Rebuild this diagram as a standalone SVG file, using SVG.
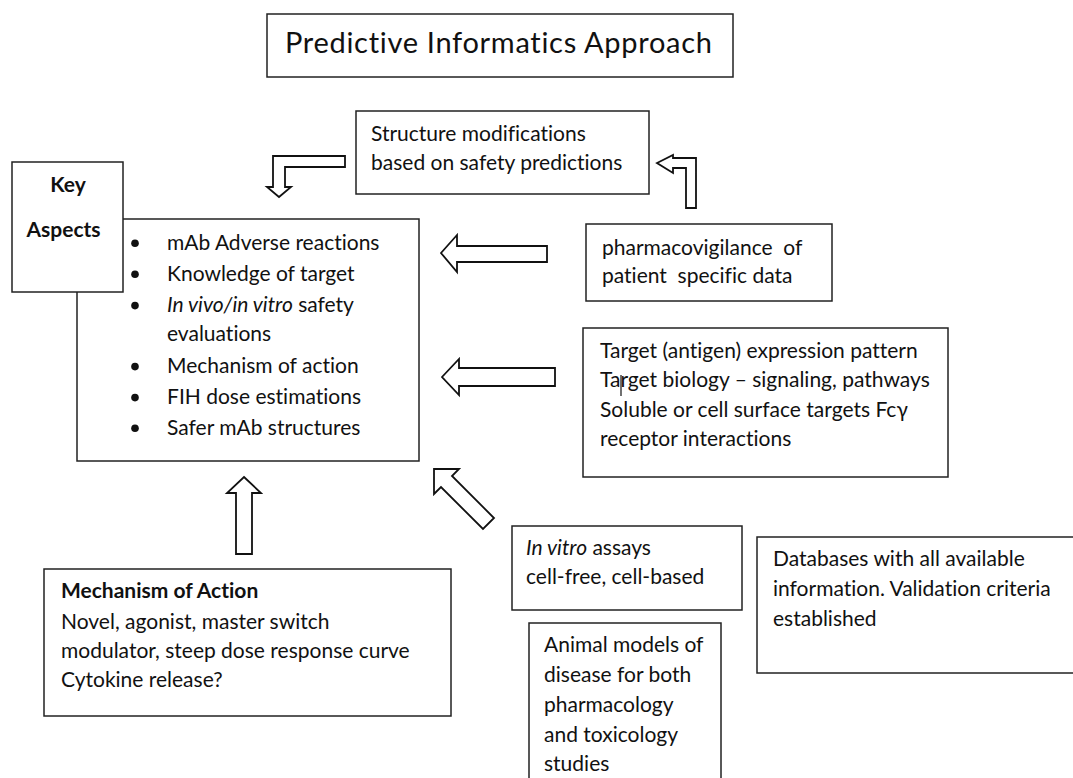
<svg xmlns="http://www.w3.org/2000/svg" width="1073" height="778" viewBox="0 0 1073 778">
<style>
.box{fill:#fff;stroke:#222;stroke-width:1.5}
.arr{fill:#fff;stroke:#111;stroke-width:1.8;stroke-linejoin:miter}
text{font-family:Lato,"Open Sans","Liberation Sans",sans-serif;font-size:21px;fill:#111;font-variant-ligatures:none;font-feature-settings:"liga" 0,"clig" 0,"dlig" 0,"calt" 0}
.b{font-weight:bold}
.i{font-style:italic}
.title{font-size:29px;letter-spacing:0.7px}
.dot{fill:#111}
</style>
<rect width="1073" height="778" fill="#fff"/>
<g id="title">
<rect class="box" x="267" y="14" width="466" height="63"/>
<text class="title" x="285" y="53">Predictive Informatics Approach</text>
</g>
<g id="connectors">
<path class="arr" d="M345,156 L273,156 L273,187 L267,187 L279,197 L291,187 L285,187 L285,167 L345,167 Z"/>
<path class="arr" d="M686,208 L686,168 L673,168 L673,173 L657,163 L673,155 L673,158 L696,158 L696,208 Z"/>
<path class="arr" d="M441,253 L457,235 L457,246 L547,246 L547,262 L457,262 L457,272 Z"/>
<path class="arr" d="M442,377 L459,359 L459,368 L555,368 L555,386 L459,386 L459,395 Z"/>
<path class="arr" d="M434,469 L434,494 L441,487 L483,529 L494,518 L452,476 L459,469 Z"/>
<path class="arr" d="M244,477 L261,493 L252,493 L252,554 L236,554 L236,493 L227,493 Z"/>
</g>
<g id="main">
<rect class="box" x="77" y="219" width="342" height="242"/>
<circle class="dot" cx="135" cy="243.3" r="3.8"/>
<circle class="dot" cx="135" cy="274.3" r="3.8"/>
<circle class="dot" cx="135" cy="305.6" r="3.8"/>
<circle class="dot" cx="135" cy="366.6" r="3.8"/>
<circle class="dot" cx="135" cy="397.6" r="3.8"/>
<circle class="dot" cx="135" cy="428.3" r="3.8"/>
<text x="167" y="250">mAb Adverse reactions</text>
<text x="167" y="281">Knowledge of target</text>
<text x="167" y="312"><tspan class="i">In vivo/in vitro</tspan> safety</text>
<text x="167" y="341">evaluations</text>
<text x="167" y="373">Mechanism of action</text>
<text x="167" y="404">FIH dose estimations</text>
<text x="167" y="435">Safer mAb structures</text>
</g>
<g id="key">
<rect class="box" x="12" y="162" width="111" height="130"/>
<text class="b" x="68" y="192" text-anchor="middle">Key</text>
<text class="b" x="63.5" y="237" text-anchor="middle">Aspects</text>
</g>
<g id="structure">
<rect class="box" x="356" y="111" width="293" height="83"/>
<text x="371" y="141">Structure modifications</text>
<text x="371" y="170">based on safety predictions</text>
</g>
<g id="pharmacovigilance">
<rect class="box" x="586" y="224" width="246" height="77"/>
<text x="602" y="255" xml:space="preserve">pharmacovigilance  of</text>
<text x="602" y="283" xml:space="preserve">patient  specific data</text>
</g>
<g id="target">
<rect class="box" x="583" y="328" width="365" height="149"/>
<text x="600" y="357.5">Target (antigen) expression pattern</text>
<text x="600" y="387">Target biology – signaling, pathways</text>
<text x="600" y="416.5">Soluble or cell surface targets Fcγ</text>
<text x="600" y="446">receptor interactions</text>
<line x1="621" y1="375" x2="621" y2="396" stroke="#111" stroke-width="1.2"/>
</g>
<g id="invitro">
<rect class="box" x="512" y="526" width="230" height="84"/>
<text x="526" y="555"><tspan class="i">In vitro</tspan> assays</text>
<text x="526" y="584">cell-free, cell-based</text>
</g>
<g id="animal">
<rect class="box" x="529" y="623" width="192" height="170"/>
<text x="544" y="652">Animal models of</text>
<text x="544" y="682">disease for both</text>
<text x="544" y="712">pharmacology</text>
<text x="544" y="742">and toxicology</text>
<text x="544" y="771">studies</text>
</g>
<g id="databases">
<rect class="box" x="757" y="537" width="330" height="136"/>
<text x="773" y="566">Databases with all available</text>
<text x="773" y="596">information. Validation criteria</text>
<text x="773" y="626">established</text>
</g>
<g id="mechanism">
<rect class="box" x="44" y="569" width="407" height="147"/>
<text class="b" x="61" y="598">Mechanism of Action</text>
<text x="61" y="629">Novel, agonist, master switch</text>
<text x="61" y="658">modulator, steep dose response curve</text>
<text x="61" y="687">Cytokine release?</text>
</g>
</svg>
